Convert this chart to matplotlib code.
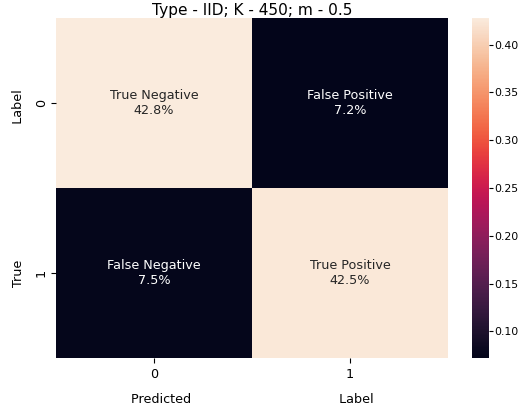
import numpy as np
import matplotlib
matplotlib.use('Agg')
import matplotlib.pyplot as plt
import seaborn as sns

# Confusion matrix, normalised over all samples
cell_names = ["True Negative", "False Positive", "False Negative", "True Positive"]
cell_values = [0.428, 0.072, 0.075, 0.425]
tick_labels = ["0", "1"]
title = "Type - IID; K - 450; m - 0.5"

cm = np.asarray(cell_values).reshape(2, 2)
annot = np.asarray([f"{name}\n{v:.1%}" for name, v in zip(cell_names, cell_values)]).reshape(2, 2)

plt.rcParams['font.size'] = 9.2

fig = plt.figure(figsize=(5.18, 4.08), dpi=100)
ax = fig.add_axes([56 / 518, 1 - 358 / 408, 392 / 518, 340 / 408])
cax = fig.add_axes([472 / 518, 1 - 358 / 408, 17 / 518, 340 / 408])

sns.heatmap(cm, annot=annot, fmt="", cmap="rocket", ax=ax, cbar_ax=cax,
            xticklabels=tick_labels, yticklabels=tick_labels,
            annot_kws={"fontsize": 9.2})

ax.tick_params(axis="y", pad=2.5)
cax.tick_params(length=3, pad=1, labelsize=7.8)

ax.set_title(title, pad=1.5)
ax.set_xlabel("Predicted" + " " * 37 + "Label", labelpad=9)
ax.set_ylabel("True" + " " * 34 + "Label", labelpad=7)

fig.savefig("out.png")
plt.close(fig)
